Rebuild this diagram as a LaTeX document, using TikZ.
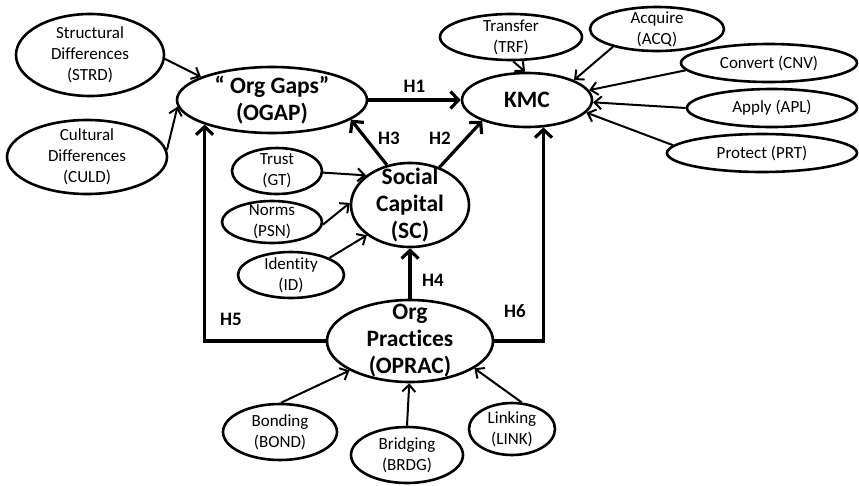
\documentclass[tikz,border=0pt]{standalone}
\usepackage{fontspec}
\setmainfont{Carlito}[Ligatures=NoCommon]
\usetikzlibrary{arrows.meta,shapes.geometric}
\begin{document}
\begin{tikzpicture}[x=1pt,y=-1pt,
 ell/.style={draw,ellipse,line width=2.6pt,inner sep=0pt},
 sm/.style={font=\fontsize{17}{21}\selectfont,align=center},
 big/.style={font=\fontsize{23.5}{27}\selectfont\bfseries,align=center},
 hl/.style={font=\fontsize{19}{22}\selectfont\bfseries},
 thinarr/.style={line width=2pt,-{Straight Barb[length=7pt,width=13pt]}},
 thickarr/.style={line width=3.2pt,-{Straight Barb[length=8pt,width=17pt]}},
]
\useasboundingbox (0,0) rectangle (859,485);
% peripheral left
\node[ell,minimum width=148pt,minimum height=82pt,label={[sm]center:{Structural\\Differences\\(STRD)}}] (strd) at (90,55) {};
\node[ell,minimum width=160pt,minimum height=74pt,label={[sm]center:{Cultural\\Differences\\(CULD)}}] (culd) at (87,157) {};
% main
\node[ell,minimum width=190pt,minimum height=66pt,label={[big]center:{“ Org Gaps”\\(OGAP)}}] (ogap) at (272,100) {};
\node[ell,minimum width=130pt,minimum height=54pt,label={[big]center:{KMC}}] (kmc) at (527,100) {};
\node[ell,minimum width=118pt,minimum height=84pt,label={[big]center:{Social\\Capital\\(SC)}}] (sc) at (410,205) {};
\node[ell,minimum width=166pt,minimum height=82pt,label={[big]center:{Org\\Practices\\(OPRAC)}}] (oprac) at (410,341) {};
% KMC peripherals
\node[ell,minimum width=142pt,minimum height=46pt,label={[sm]center:{Transfer\\(TRF)}}] (trf) at (511,37) {};
\node[ell,minimum width=134pt,minimum height=44pt,label={[sm]center:{Acquire\\(ACQ)}}] (acq) at (657,29) {};
\node[ell,minimum width=176pt,minimum height=38pt,label={[sm]center:{Convert (CNV)}}] (cnv) at (769,63) {};
\node[ell,minimum width=170pt,minimum height=38pt,label={[sm]center:{Apply (APL)}}] (apl) at (772,108) {};
\node[ell,minimum width=190pt,minimum height=38pt,label={[sm]center:{Protect (PRT)}}] (prt) at (762,153) {};
% SC peripherals
\node[ell,minimum width=90pt,minimum height=46pt,label={[sm]center:{Trust\\(GT)}}] (gt) at (277,171) {};
\node[ell,minimum width=100pt,minimum height=42pt,label={[sm]center:{Norms\\(PSN)}}] (psn) at (272,222) {};
\node[ell,minimum width=106pt,minimum height=46pt,label={[sm]center:{Identity\\(ID)}}] (id) at (291,275) {};
% OPRAC peripherals
\node[ell,minimum width=114pt,minimum height=56pt,label={[sm]center:{Bonding\\(BOND)}}] (bond) at (280,432) {};
\node[ell,minimum width=112pt,minimum height=56pt,label={[sm]center:{Bridging\\(BRDG)}}] (brdg) at (407,455) {};
\node[ell,minimum width=86pt,minimum height=52pt,label={[sm]center:{Linking\\(LINK)}}] (link) at (512,429) {};
% thin arrows
\draw[thinarr] (strd.-3) -- (ogap.162);
\draw[thinarr] (culd.5) -- (ogap.184);
\draw[thinarr] (trf.-85) -- (kmc.94);
\draw[thinarr] (acq.202) -- (kmc.23);
\draw[thinarr] (cnv.185) -- (kmc.9);
\draw[thinarr] (apl.180) -- (kmc.-2);
\draw[thinarr] (prt.175) -- (kmc.-12);
\draw[thinarr] (gt.-2) -- (sc.146);
\draw[thinarr] (psn.-3) -- (sc.178);
\draw[thinarr] (id.24) -- (sc.215);
\draw[thinarr] (bond.88) -- (oprac.206);
\draw[thinarr] (brdg.north) -- (oprac.-91);
\draw[thinarr] (link.70) -- (oprac.-23);
% thick arrows
\draw[thickarr] (ogap.east) -- node[hl,above=3pt] (h1) {H1} (kmc.west);
\draw[thickarr] (sc.120) -- (ogap.-14);
\draw[thickarr] (sc.52) -- (kmc.205);
\draw[thickarr] (oprac.north) -- (sc.south);
\draw[thickarr] (oprac.west) -| (ogap.200);
\draw[thickarr] (oprac.east) -| (kmc.-59);
\node[hl] (h3) at (389,138) {H3};
\node[hl] (h2) at (440,138) {H2};
\node[hl] (h4) at (433,280) {H4};
\node[hl] (h5) at (231,319) {H5};
\node[hl] (h6) at (515,311) {H6};
\end{tikzpicture}
\end{document}
